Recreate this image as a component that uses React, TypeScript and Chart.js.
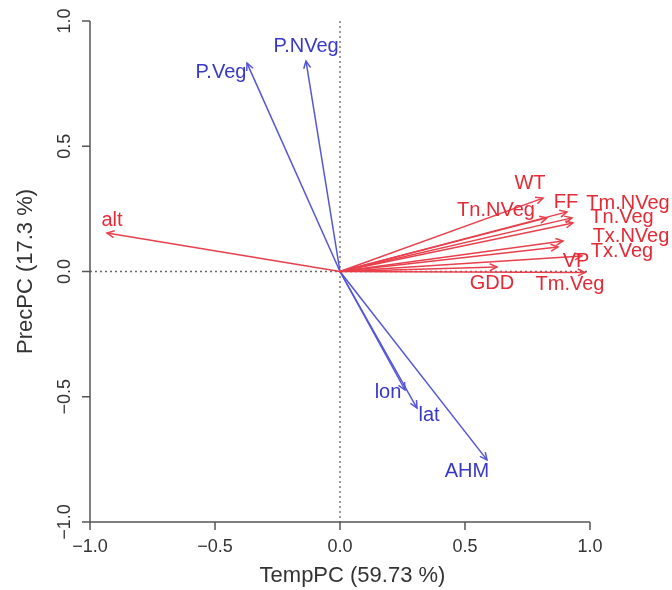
import React, { useEffect, useRef } from 'react';
import { Chart, registerables } from 'chart.js';
Chart.register(...registerables);

// Temperature-related variables (red)
const tempVars = ['alt', 'WT', 'Tn.NVeg', 'FF', 'Tm.NVeg', 'Tn.Veg', 'Tx.NVeg', 'Tx.Veg', 'VP', 'GDD', 'Tm.Veg'];
const tempX = [-0.932, 0.812, 0.828, 0.908, 0.928, 0.932, 0.892, 0.872, 0.968, 0.628, 0.98];
const tempY = [0.154, 0.293, 0.214, 0.238, 0.214, 0.194, 0.122, 0.098, 0.062, 0.018, -0.004];
const tempLabelX = [-0.912, 0.76, 0.624, 0.904, 1.152, 1.128, 1.164, 1.128, 0.944, 0.608, 0.92];
const tempLabelY = [0.202, 0.353, 0.245, 0.277, 0.273, 0.214, 0.138, 0.078, 0.038, -0.046, -0.05];

// Precipitation / geographic variables (blue)
const precVars = ['P.Veg', 'P.NVeg', 'lon', 'lat', 'AHM'];
const precX = [-0.372, -0.136, 0.26, 0.308, 0.588];
const precY = [0.832, 0.84, -0.473, -0.545, -0.752];
const precLabelX = [-0.476, -0.136, 0.192, 0.356, 0.508];
const precLabelY = [0.796, 0.9, -0.481, -0.573, -0.8];

const tickValues = [-1, -0.5, 0, 0.5, 1];
const xTitle = 'TempPC (59.73 %)';
const yTitle = 'PrecPC (17.3 %)';

const RED_LINE = '#e8404c';
const RED_TEXT = '#e42a36';
const BLUE_LINE = '#5555d8';
const BLUE_TEXT = '#3838c8';
const AXIS = '#555555';
const TEXT = '#333333';
const FONT = '"Liberation Sans", Arial, Helvetica, sans-serif';

const fmt = (v: number) => (v < 0 ? '\u2212' : '') + Math.abs(v).toFixed(1);

const biplotPlugin = {
  id: 'biplot',
  beforeDatasetsDraw(chart: any) {
    const { ctx, chartArea, scales } = chart;
    const xs = scales.x;
    const ys = scales.y;
    ctx.save();
    ctx.strokeStyle = '#666';
    ctx.lineWidth = 1.3;
    ctx.setLineDash([2, 3]);
    const x0 = xs.getPixelForValue(0);
    const y0 = ys.getPixelForValue(0);
    ctx.beginPath();
    ctx.moveTo(x0, chartArea.top);
    ctx.lineTo(x0, chartArea.bottom);
    ctx.moveTo(chartArea.left, y0);
    ctx.lineTo(chartArea.right, y0);
    ctx.stroke();
    ctx.restore();
  },
  afterDatasetsDraw(chart: any) {
    const { ctx, chartArea, scales } = chart;
    const xs = scales.x;
    const ys = scales.y;
    ctx.save();
    // arrowheads
    chart.data.datasets.forEach((ds: any, i: number) => {
      const meta = chart.getDatasetMeta(i);
      const p0 = meta.data[0];
      const p1 = meta.data[1];
      if (!p0 || !p1) return;
      const ang = Math.atan2(p1.y - p0.y, p1.x - p0.x);
      const len = 8;
      const spread = Math.PI / 7;
      ctx.strokeStyle = ds.borderColor;
      ctx.lineWidth = 1.5;
      ctx.beginPath();
      ctx.moveTo(p1.x - len * Math.cos(ang - spread), p1.y - len * Math.sin(ang - spread));
      ctx.lineTo(p1.x, p1.y);
      ctx.lineTo(p1.x - len * Math.cos(ang + spread), p1.y - len * Math.sin(ang + spread));
      ctx.stroke();
    });
    // variable labels
    ctx.font = `20px ${FONT}`;
    ctx.textAlign = 'center';
    ctx.textBaseline = 'middle';
    ctx.fillStyle = RED_TEXT;
    tempVars.forEach((n, i) => {
      ctx.fillText(n, xs.getPixelForValue(tempLabelX[i]), ys.getPixelForValue(tempLabelY[i]));
    });
    ctx.fillStyle = BLUE_TEXT;
    precVars.forEach((n, i) => {
      ctx.fillText(n, xs.getPixelForValue(precLabelX[i]), ys.getPixelForValue(precLabelY[i]));
    });
    // axes
    const left = chartArea.left;
    const bottom = chartArea.bottom;
    const tick = 8;
    ctx.strokeStyle = AXIS;
    ctx.lineWidth = 1.5;
    ctx.beginPath();
    ctx.moveTo(xs.getPixelForValue(tickValues[0]), bottom);
    ctx.lineTo(xs.getPixelForValue(tickValues[tickValues.length - 1]), bottom);
    ctx.moveTo(left, ys.getPixelForValue(tickValues[0]));
    ctx.lineTo(left, ys.getPixelForValue(tickValues[tickValues.length - 1]));
    tickValues.forEach((v) => {
      const px = xs.getPixelForValue(v);
      ctx.moveTo(px, bottom);
      ctx.lineTo(px, bottom + tick);
      const py = ys.getPixelForValue(v);
      ctx.moveTo(left, py);
      ctx.lineTo(left - tick, py);
    });
    ctx.stroke();
    ctx.fillStyle = TEXT;
    ctx.font = `18px ${FONT}`;
    ctx.textAlign = 'center';
    ctx.textBaseline = 'middle';
    tickValues.forEach((v) => {
      ctx.fillText(fmt(v), xs.getPixelForValue(v), bottom + 25);
    });
    tickValues.forEach((v) => {
      ctx.save();
      ctx.translate(left - 25, ys.getPixelForValue(v));
      ctx.rotate(-Math.PI / 2);
      ctx.fillText(fmt(v), 0, 0);
      ctx.restore();
    });
    // titles
    ctx.font = `22px ${FONT}`;
    ctx.fillText(xTitle, xs.getPixelForValue(0.05), bottom + 54);
    ctx.save();
    ctx.translate(left - 64, (chartArea.top + chartArea.bottom) / 2);
    ctx.rotate(-Math.PI / 2);
    ctx.fillText(yTitle, 0, 0);
    ctx.restore();
    ctx.restore();
  },
};

export default function App() {
  const ref = useRef<HTMLCanvasElement | null>(null);
  useEffect(() => {
    if (!ref.current) return;
    const datasets: any[] = [];
    tempVars.forEach((n, i) => {
      datasets.push({
        label: n,
        data: [{ x: 0, y: 0 }, { x: tempX[i], y: tempY[i] }],
        showLine: true,
        borderColor: RED_LINE,
        borderWidth: 1.5,
        pointRadius: 0,
        clip: false,
      });
    });
    precVars.forEach((n, i) => {
      datasets.push({
        label: n,
        data: [{ x: 0, y: 0 }, { x: precX[i], y: precY[i] }],
        showLine: true,
        borderColor: BLUE_LINE,
        borderWidth: 1.5,
        pointRadius: 0,
        clip: false,
      });
    });
    const chart = new Chart(ref.current, {
      type: 'scatter',
      data: { datasets },
      options: {
        responsive: false,
        animation: false,
        events: [],
        layout: { padding: { left: 90, right: 82, top: 21, bottom: 68 } },
        plugins: { legend: { display: false }, tooltip: { enabled: false } },
        scales: {
          x: { type: 'linear', min: -1, max: 1, display: false },
          y: { type: 'linear', min: -1, max: 1, display: false },
        },
      },
      plugins: [biplotPlugin],
    } as any);
    return () => chart.destroy();
  }, []);
  return (
    <div style={{ position: 'fixed', left: 0, top: 0, width: 672, height: 590, background: '#fff' }}>
      <canvas ref={ref} width={672} height={590} style={{ display: 'block' }} />
    </div>
  );
}
